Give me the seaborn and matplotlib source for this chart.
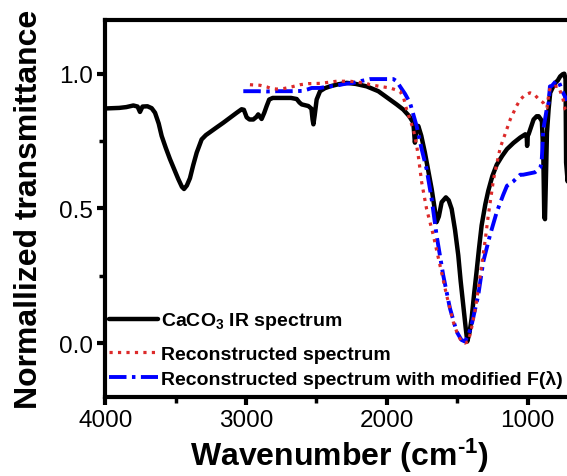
import numpy as np
import pandas as pd
import matplotlib
matplotlib.use("Agg")
import matplotlib.pyplot as plt
import seaborn as sns

# ---------------- data ----------------
black_wn = [3995, 3950, 3900, 3850, 3800, 3770, 3753, 3735, 3700, 3670, 3646, 3620,
            3599, 3570, 3540, 3510, 3481, 3455, 3440, 3420, 3398, 3375, 3350, 3315,
            3285, 3256, 3210, 3161, 3110, 3066, 3031, 3015, 2995, 2975, 2948, 2925,
            2913, 2900, 2889, 2870, 2853, 2835, 2810, 2782, 2720, 2680, 2640, 2620,
            2604, 2557, 2535, 2527, 2521, 2512, 2498, 2474, 2440, 2403, 2350, 2285,
            2220, 2143, 2060, 1977, 1930, 1883, 1840, 1811, 1800, 1790, 1776, 1755,
            1729, 1705, 1681, 1660, 1646, 1630, 1610, 1580, 1560, 1539, 1515, 1492,
            1475, 1457, 1440, 1428, 1412, 1397, 1380, 1362, 1345, 1326, 1300, 1279,
            1250, 1219, 1180, 1146, 1100, 1052, 1016, 1006, 1003, 998, 992, 970,
            957, 935, 921, 905, 898, 888, 881, 876, 868, 862, 850, 839,
            820, 803, 785, 768, 750, 739, 730, 726, 715, 700]
black_t = [0.871, 0.872, 0.873, 0.876, 0.882, 0.878, 0.858, 0.878, 0.879, 0.872, 0.855, 0.815,
           0.769, 0.725, 0.683, 0.645, 0.609, 0.580, 0.572, 0.585, 0.612, 0.660, 0.707, 0.756,
           0.772, 0.783, 0.800, 0.818, 0.838, 0.855, 0.868, 0.866, 0.838, 0.830, 0.830, 0.840,
           0.849, 0.840, 0.832, 0.855, 0.880, 0.904, 0.910, 0.910, 0.910, 0.910, 0.906, 0.893,
           0.886, 0.880, 0.870, 0.830, 0.812, 0.845, 0.904, 0.935, 0.946, 0.953, 0.960, 0.966,
           0.962, 0.953, 0.935, 0.904, 0.886, 0.867, 0.842, 0.818, 0.744, 0.790, 0.806, 0.770,
           0.707, 0.640, 0.572, 0.500, 0.449, 0.470, 0.523, 0.541, 0.530, 0.498, 0.420, 0.326,
           0.230, 0.141, 0.060, 0.006, 0.040, 0.092, 0.180, 0.265, 0.350, 0.437, 0.515, 0.565,
           0.620, 0.662, 0.695, 0.720, 0.743, 0.763, 0.775, 0.770, 0.732, 0.770, 0.776, 0.810,
           0.830, 0.842, 0.842, 0.830, 0.824, 0.700, 0.468, 0.460, 0.650, 0.781, 0.870, 0.929,
           0.950, 0.966, 0.975, 0.990, 0.998, 1.000, 0.980, 0.670, 0.600, 0.700]

red_wn = [2972, 2940, 2901, 2853, 2820, 2782, 2730, 2676, 2617, 2557, 2474, 2400,
          2356, 2261, 2200, 2143, 2119, 2050, 1977, 1906, 1880, 1859, 1835, 1811,
          1790, 1776, 1752, 1717, 1669, 1622, 1575, 1528, 1495, 1468, 1445, 1421,
          1400, 1374, 1350, 1326, 1300, 1279, 1241, 1194, 1150, 1123, 1078, 1052,
          1020, 983, 950, 920, 888, 870, 862, 850, 839, 806, 780, 747, 733, 710]
red_t = [0.959, 0.958, 0.957, 0.951, 0.945, 0.943, 0.945, 0.951, 0.959, 0.963, 0.964, 0.969,
         0.972, 0.972, 0.968, 0.964, 0.959, 0.953, 0.947, 0.935, 0.910, 0.867, 0.830, 0.793,
         0.740, 0.695, 0.597, 0.498, 0.400, 0.289, 0.178, 0.080, 0.030, 0.006, 0.000, 0.006,
         0.050, 0.117, 0.200, 0.289, 0.385, 0.473, 0.610, 0.725, 0.790, 0.830, 0.880, 0.904,
         0.920, 0.929, 0.922, 0.905, 0.892, 0.875, 0.873, 0.920, 0.950, 0.953, 0.953, 0.904,
         0.867, 0.850]

blue_wn = [3019, 2960, 2913, 2850, 2782, 2676, 2604, 2560, 2533, 2474, 2420, 2356,
           2300, 2238, 2190, 2119, 2030, 1953, 1930, 1906, 1870, 1835, 1788, 1752,
           1717, 1681, 1646, 1599, 1551, 1504, 1470, 1445, 1420, 1397, 1375, 1350,
           1315, 1267, 1219, 1173, 1146, 1102, 1052, 1031, 947, 910, 900, 888,
           864, 850, 841, 827, 794, 775, 756, 747, 720]
blue_t = [0.935, 0.935, 0.935, 0.934, 0.935, 0.935, 0.936, 0.942, 0.947, 0.947, 0.952, 0.956,
          0.962, 0.966, 0.972, 0.980, 0.980, 0.980, 0.972, 0.953, 0.925, 0.892, 0.806, 0.720,
          0.646, 0.535, 0.400, 0.252, 0.129, 0.043, 0.012, 0.006, 0.030, 0.068, 0.120, 0.178,
          0.301, 0.400, 0.486, 0.550, 0.584, 0.600, 0.625, 0.625, 0.634, 0.650, 0.670, 0.793,
          0.867, 0.892, 0.953, 0.955, 0.975, 0.966, 0.941, 0.929, 0.900]

series_labels = [r"CaCO$_\mathbf{3}$ IR spectrum",
                 "Reconstructed spectrum",
                 r"Reconstructed spectrum with modified F(λ)"]
x_ticks = [4000, 3000, 2000, 1000]
y_ticks = [0.0, 0.5, 1.0]

# ---------------- style ----------------
sns.set_style("ticks")
plt.rcParams["font.family"] = ["Liberation Sans", "DejaVu Sans"]
plt.rcParams.update({
    "mathtext.fontset": "custom",
    "mathtext.rm": "Liberation Sans:bold",
    "mathtext.bf": "Liberation Sans:bold",
    "mathtext.it": "Liberation Sans:bold",
    "mathtext.default": "bf",
    "text.color": "black",
    "axes.labelcolor": "black",
    "xtick.color": "black",
    "ytick.color": "black",
    "axes.edgecolor": "black",
})

fig = plt.figure(figsize=(5.67, 4.77), dpi=100)
# right spine lies beyond the picture edge (cropped like the reference)
ax = fig.add_axes([105.2 / 567, 79.0 / 477, 506.8 / 567, 377.2 / 477])

df_b = pd.DataFrame({"wn": black_wn, "t": black_t})
df_r = pd.DataFrame({"wn": red_wn, "t": red_t})
df_u = pd.DataFrame({"wn": blue_wn, "t": blue_t})

sns.lineplot(data=df_b, x="wn", y="t", ax=ax, color="black", lw=3.2,
             estimator=None, sort=False)
sns.lineplot(data=df_r, x="wn", y="t", ax=ax, color="#dc2a2a", lw=2.3,
             linestyle=":", estimator=None, sort=False)
sns.lineplot(data=df_u, x="wn", y="t", ax=ax, color="#0000ff", lw=2.8,
             estimator=None, sort=False)
line_b, line_r, line_u = ax.lines[0], ax.lines[1], ax.lines[2]
line_u.set_dashes([4.5, 1.4, 0.9, 1.4])
line_b.set_zorder(3)
line_u.set_zorder(3.5)
line_r.set_zorder(4)

ax.set_xlim(4000, 400)
ax.set_ylim(-0.2, 1.2)
ax.set_xticks(x_ticks)
ax.set_xticklabels([str(v) for v in x_ticks])
ax.set_yticks(y_ticks)
ax.set_yticklabels([f"{v:.1f}" for v in y_ticks])
ax.set_xticks([3500, 2500, 1500], minor=True)
ax.set_yticks([0.25, 0.75], minor=True)

for sp in ax.spines.values():
    sp.set_linewidth(3.0)
    sp.set_color("black")
ax.tick_params(axis="both", which="major", direction="out", length=6, width=3,
               labelsize=17.5, pad=3, color="black", labelcolor="black")
ax.tick_params(axis="both", which="minor", direction="out", length=4, width=2.5,
               color="black")

ax.set_xlabel(r"Wavenumber (cm$^{\text{-}1}$)", fontsize=23, fontweight="bold",
              color="black")
ax.xaxis.set_label_coords(0.463, -0.102)
ax.set_ylabel("Normallized transmittance", fontsize=23, fontweight="bold",
              color="black")
ax.yaxis.set_label_coords(-0.12, 0.5)

prop = {"weight": "bold", "size": 14, "family": "Liberation Sans"}
leg1 = ax.legend(handles=[line_b], labels=series_labels[:1], loc="center left",
                 bbox_to_anchor=(0.008, (398 - 322) / 377.2), frameon=False,
                 prop=prop, handlelength=2.5, handletextpad=0.15,
                 borderpad=0, borderaxespad=0, labelcolor="black")
ax.add_artist(leg1)
leg2 = ax.legend(handles=[line_r, line_u], labels=series_labels[1:], loc="lower left",
                 bbox_to_anchor=(0.008, 0.025), frameon=False,
                 prop=prop, handlelength=2.5, handletextpad=0.15, labelspacing=0.35,
                 borderpad=0, borderaxespad=0, labelcolor="black")

fig.savefig("out.png", dpi=100)
